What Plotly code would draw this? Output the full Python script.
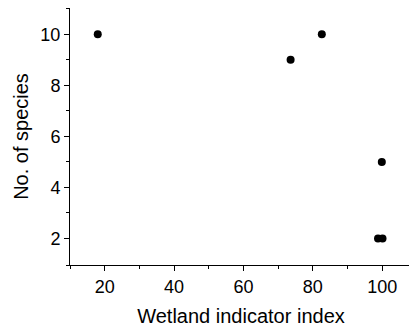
import plotly.graph_objects as go

wetland_index = [18, 73.6, 82.6, 99.9, 98.8, 100.1]
species_count = [10, 9, 10, 5, 2, 2]

x_ticks = [20, 40, 60, 80, 100]
y_ticks = [2, 4, 6, 8, 10]

FONT = "Liberation Sans, Arial, sans-serif"

fig = go.Figure(go.Scatter(
    x=wetland_index, y=species_count, mode="markers",
    marker=dict(color="black", size=8, line=dict(width=0)),
))

axis_common = dict(
    showline=True, linecolor="black", linewidth=1, showgrid=False, zeroline=False,
    ticks="outside", ticklen=5, tickcolor="black", tickwidth=1,
    tickfont=dict(family=FONT, size=18, color="black"),
    minor=dict(ticks="outside", ticklen=3, tickcolor="black", tickwidth=1, showgrid=False),
)

fig.update_xaxes(range=[10, 108.6], tickvals=x_ticks,
                 minor_tickvals=[10, 30, 50, 70, 90, 108.6],
                 title=dict(text="Wetland indicator index", font=dict(family=FONT, size=20, color="black"), standoff=13),
                 **axis_common)
fig.update_yaxes(range=[0.96, 11.03], tickvals=y_ticks,
                 minor_tickvals=[0.96, 3, 5, 7, 9, 11.03],
                 title=dict(text="No. of species", font=dict(family=FONT, size=20, color="black"), standoff=6),
                 **axis_common)

# page body adds an 8px offset; size/margins compensate
fig.update_layout(
    width=409, height=320,
    margin=dict(l=62, r=5, t=0, b=63, autoexpand=False),
    plot_bgcolor="white", paper_bgcolor="white",
    showlegend=False,
)
fig.write_html("out.html")
